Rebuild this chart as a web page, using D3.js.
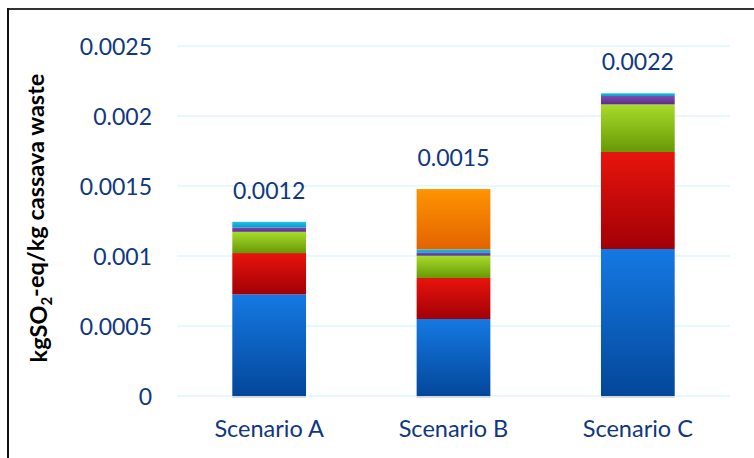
<!DOCTYPE html>
<html>
<head>
<meta charset="utf-8">
<script src="https://cdn.jsdelivr.net/npm/d3@7"></script>
<style>
  html, body { margin: 0; padding: 0; background: #fff; }
  svg { display: block; }
</style>
</head>
<body>
<div id="chart"></div>
<script>
// Acidification impact per scenario, stacked by contribution (kg SO2-eq / kg cassava waste)
const scenarios = ["Scenario A", "Scenario B", "Scenario C"];
const stage1 = [0.000726, 0.000550, 0.001050];
const stage2 = [0.000295, 0.000293, 0.000693];
const stage3 = [0.000152, 0.000159, 0.000340];
const stage4 = [0.000031, 0.000021, 0.000060];
const stage5 = [0.000040, 0.000024, 0.000019];
const stage6 = [0, 0.000431, 0];
const tickValues = [0, 0.0005, 0.001, 0.0015, 0.002, 0.0025];
const tickLabels = ["0", "0.0005", "0.001", "0.0015", "0.002", "0.0025"];

const seriesKeys = ["stage1", "stage2", "stage3", "stage4", "stage5", "stage6"];
const seriesValues = [stage1, stage2, stage3, stage4, stage5, stage6];
const seriesColors = [
  ["#1579E3", "#03479A"],
  ["#E8140C", "#A10006"],
  ["#A7DB2B", "#689906"],
  ["#7C4CB0", "#5A2D88"],
  ["#1CC2EA", "#0A9BCB"],
  ["#FF9400", "#E26300"]
];

const rows = scenarios.map((s, i) => {
  const r = { scenario: s };
  seriesKeys.forEach((k, j) => { r[k] = seriesValues[j][i]; });
  return r;
});

const W = 754, H = 458;
const textColor = "#10377F";
const font = "Lato, 'Open Sans', sans-serif";

const svg = d3.select("#chart").append("svg")
  .attr("width", W).attr("height", H);

const defs = svg.append("defs");
seriesKeys.forEach((k, j) => {
  const g = defs.append("linearGradient")
    .attr("id", "grad-" + k)
    .attr("x1", 0).attr("y1", 0).attr("x2", 0).attr("y2", 1);
  g.append("stop").attr("offset", "0%").attr("stop-color", seriesColors[j][0]);
  g.append("stop").attr("offset", "100%").attr("stop-color", seriesColors[j][1]);
});

// frame lines (top and left)
svg.append("line").attr("x1", 8).attr("x2", W).attr("y1", 9).attr("y2", 9)
  .attr("stroke", "#333").attr("stroke-width", 2);
svg.append("line").attr("x1", 8).attr("x2", 8).attr("y1", 8).attr("y2", H)
  .attr("stroke", "#111").attr("stroke-width", 2);

const x = d3.scaleBand().domain(scenarios).range([177, 730])
  .paddingInner(0.6).paddingOuter(0.3);
const y = d3.scaleLinear().domain([0, 0.0025]).range([396, 46]);

// gridlines
svg.append("g").selectAll("line").data(tickValues).join("line")
  .attr("x1", 177).attr("x2", 730)
  .attr("y1", d => y(d)).attr("y2", d => y(d))
  .attr("stroke", "#DDF8FB").attr("stroke-width", 1.5);

// y axis tick labels
const yAxis = d3.axisLeft(y).tickValues(tickValues)
  .tickFormat((d, i) => tickLabels[i]).tickSize(0).tickPadding(0);
const gy = svg.append("g").attr("transform", "translate(152,0)").call(yAxis);
gy.select(".domain").remove();
gy.selectAll("text")
  .attr("fill", textColor)
  .style("font-family", font)
  .style("font-size", "23px")
  .attr("dy", "0.35em");

// x axis category labels
const xAxis = d3.axisBottom(x).tickSize(0).tickPadding(0);
const gx = svg.append("g").attr("transform", "translate(0,420)").call(xAxis);
gx.select(".domain").remove();
gx.selectAll("text")
  .attr("fill", textColor)
  .style("font-family", font)
  .style("font-size", "23.5px")
  .attr("dy", "0.72em");

// bar base shadow
svg.append("g").selectAll("line").data(scenarios).join("line")
  .attr("x1", d => x(d)).attr("x2", d => x(d) + x.bandwidth())
  .attr("y1", y(0) + 1).attr("y2", y(0) + 1)
  .attr("stroke", "#C9CED6").attr("stroke-width", 1.5);

// stacked bars
const stack = d3.stack().keys(seriesKeys);
const layers = stack(rows);
svg.append("g").selectAll("g").data(layers).join("g")
  .attr("fill", d => "url(#grad-" + d.key + ")")
  .selectAll("rect").data(d => d).join("rect")
  .attr("x", d => x(d.data.scenario))
  .attr("width", x.bandwidth())
  .attr("y", d => y(d[1]))
  .attr("height", d => Math.max(0, y(d[0]) - y(d[1])));

// totals above bars
const fmt = d3.format(".2r");
svg.append("g").selectAll("text").data(rows).join("text")
  .attr("x", d => x(d.scenario) + x.bandwidth() / 2)
  .attr("y", d => y(d3.sum(seriesKeys, k => d[k])) - 23)
  .attr("text-anchor", "middle")
  .attr("fill", textColor)
  .style("font-family", font)
  .style("font-size", "23px")
  .text(d => fmt(d3.sum(seriesKeys, k => d[k])));

// y axis title
const title = svg.append("text")
  .attr("transform", "translate(47,218) rotate(-90)")
  .attr("text-anchor", "middle")
  .attr("fill", "#000")
  .style("font-family", font)
  .style("font-weight", "bold")
  .style("font-size", "23.5px");
title.append("tspan").text("kgSO");
title.append("tspan").attr("dy", "0.3em").style("font-size", "15px").text("2");
title.append("tspan").attr("dy", "-0.3em").text("-eq/kg cassava waste");
</script>
</body>
</html>
